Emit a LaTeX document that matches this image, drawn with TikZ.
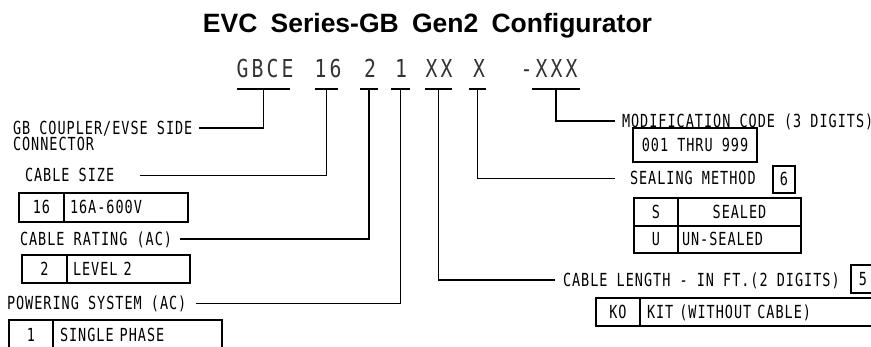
\documentclass[tikz,border=0pt]{standalone}
\usepackage{fontspec}
\usepackage{tikz}
\newfontfamily\cadfont[FakeStretch=0.75, LetterSpace=5.5]{DejaVu Sans Mono}
\newfontfamily\codefont[FakeStretch=0.8, LetterSpace=12.5]{DejaVu Sans Mono}
\newfontfamily\titlefont[WordSpace=1.8]{Liberation Sans}
\lineskiplimit=-20pt

\begin{document}
\begin{tikzpicture}[x=1pt, y=-1pt, line width=1.2pt,
	cad/.style={font=\cadfont\fontsize{18}{16}\selectfont, inner sep=0pt, outer sep=0pt},
	lbl/.style={cad, text height=13pt, text depth=0pt, anchor=west},
	code/.style={font=\codefont\fontsize{24.7}{26}\selectfont, black!80, inner sep=0pt, anchor=base},
	keycell/.style={cad, draw, text height=13pt, text depth=0pt, minimum width=#1, minimum height=28pt, anchor=north west},
	datacell/.style={cad, draw, text height=13pt, text depth=0pt, text width=#1, align=left, inner xsep=6pt, minimum height=28pt, anchor=north west},
	nbox/.style={cad, draw, text height=13pt, text depth=0pt, minimum height=27pt}]
	\useasboundingbox (0,0) rectangle (871,347);
	\clip (0,0) rectangle (871,347);
	\node[font=\titlefont\bfseries\fontsize{26.5}{30}\selectfont, inner sep=0pt, anchor=base] (title) at (427.5,33) {EVC Series-GB Gen2 Configurator};
	\node[code] (cGBCE) at (265,78) {GBCE};
	\node[code] (c16) at (328,78) {16};
	\node[code] (c2) at (370,78) {2};
	\node[code] (c1) at (401,78) {1};
	\node[code] (cXX) at (439,78) {XX};
	\node[code] (cX) at (479,78) {X};
	\node[code] (cmod) at (549,78) {-XXX};
	\foreach \n/\x/\w in {GBCE/263.5/26.5, 16/326.5/11.5, 2/369/9, 1/400.5/9.5, XX/438.5/13.5, X/477.5/8.5, mod/556/24}
		{\coordinate (u\n) at (\x,89); \draw (\x-\w,89) -- (\x+\w,89);}
	\node[cad, anchor=north west, align=left] (lcoup) at (13,121.5) {GB COUPLER/EVSE SIDE\\CONNECTOR};
	\node[lbl] (lsize) at (25,175.5) {CABLE SIZE};
	\node[keycell=45, minimum height=29pt] (k16) at (19,193) {16};
	\node[datacell=112, minimum height=29pt] (d16) at (k16.north east) {16A-600V};
	\node[lbl] (lrate) at (20,239) {CABLE RATING (AC)};
	\node[keycell=45] (k2) at (22,255) {2};
	\node[datacell=111] (d2) at (k2.north east) {LEVEL 2};
	\node[lbl] (lpow) at (7,303.5) {POWERING SYSTEM (AC)};
	\node[keycell=44, minimum height=30pt] (k1) at (9,320) {1};
	\node[datacell=155, inner xsep=7pt, minimum height=30pt] (d1) at (k1.north east) {SINGLE PHASE};
	\node[lbl] (lmod) at (622,121) {MODIFICATION CODE (3 DIGITS)};
	\node[cad, draw, text height=13pt, text depth=0pt, minimum width=124pt, minimum height=34pt, anchor=north west] (tmod) at (633,128) {001 THRU 999};
	\node[lbl] (lseal) at (630,178.5) {SEALING METHOD};
	\node[nbox, minimum width=22pt] (n6) at (784,179.5) {6};
	\node[keycell=44] (kS) at (634,198) {S};
	\node[keycell=123] (dS) at (kS.north east) {SEALED};
	\node[keycell=44, minimum height=27pt] (kU) at (kS.south west) {U};
	\node[datacell=115, inner xsep=4pt, minimum height=27pt] (dU) at (kU.north east) {UN-SEALED};
	\node[lbl] (llen) at (563,280) {CABLE LENGTH - IN FT.(2 DIGITS)};
	\node[nbox, minimum width=24pt, minimum height=28pt] (n5) at (863,279) {5};
	\node[keycell=44] (kKO) at (596,298) {KO};
	\node[datacell=226, inner xsep=7pt] (dKO) at (kKO.north east) {KIT (WITHOUT CABLE)};
	\draw (uGBCE) |- ([xshift=7pt,yshift=-6.5pt]lcoup.north east);
	\draw (u16) |- ([xshift=26pt]lsize.east);
	\draw (u2) |- ([xshift=8pt]lrate.east);
	\draw (u1) |- ([xshift=10pt]lpow.east);
	\draw (uXX) |- ([xshift=-8pt]llen.west);
	\draw (uX) |- ([xshift=-15pt]lseal.west);
	\draw (umod) |- ([xshift=-7pt]lmod.west);
\end{tikzpicture}
\end{document}
